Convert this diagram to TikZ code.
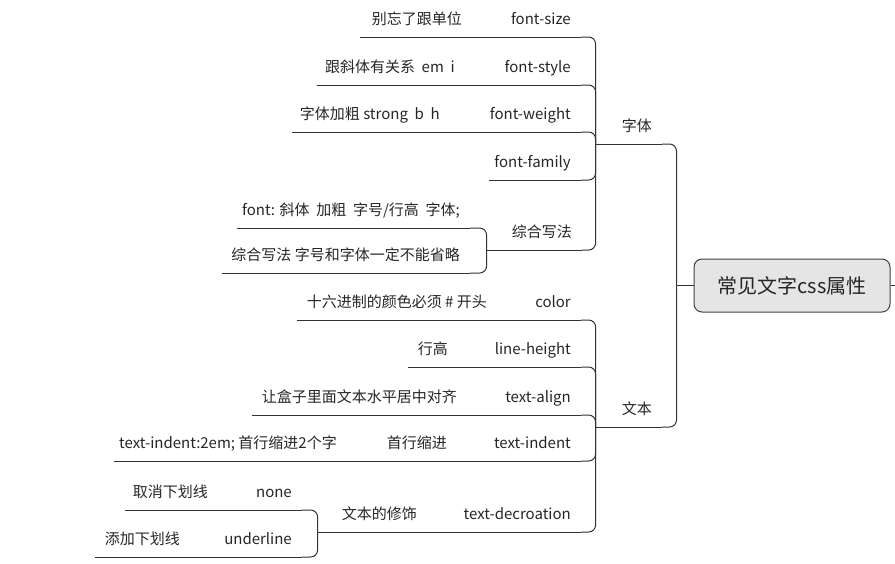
\documentclass[tikz,border=0pt]{standalone}
\usepackage{fontspec}
\setmainfont{Noto Sans CJK SC}
\tikzset{
    line/.style={draw=black!80, line width=1pt},
    branch/.style={line, rounded corners=7pt},
    topic/.style={anchor=south east, inner xsep=10pt, inner ysep=9.5pt,
        text height=11pt, text depth=3pt, text=black!85,
        font=\fontsize{15}{18}\selectfont,
        execute at begin node={\hbox to #1\bgroup\hss},
        execute at end node={\egroup}},
    root/.style={draw=black!75, line width=1pt, fill=black!10, rounded corners=8pt,
        minimum width=196pt, minimum height=53pt, text=black!85,
        font=\fontsize{20}{24}\selectfont},
}
\begin{document}
\begin{tikzpicture}[x=1pt, y=-1pt]

        \useasboundingbox (0,0) rectangle (895,563);

        \node[root] (rt) at (792,285.5) {常见文字css属性};
        \coordinate (rtout) at (895,285.5);

        \node[topic=30pt] (zt) at (662,144) {字体};
        \node[topic=30pt] (wb) at (662,427) {文本};

        \node[topic=58pt] (fs) at (581,37) {font-size};
        \node[topic=92pt] (fs1) at (472,37) {别忘了跟单位};
        \node[topic=63pt] (fst) at (581,85) {font-style};
        \node[topic=128pt] (fst1) at (465,85) {跟斜体有关系\ \ em\ \ i};
        \node[topic=78pt] (fw) at (581,132) {font-weight};
        \node[topic=138pt] (fw1) at (450,132) {字体加粗 strong\ \ b\ \ h};
        \node[topic=72pt] (ff) at (581,180) {font-family};
        \node[topic=59pt] (zh) at (582,250) {综合写法};
        \node[topic=213pt] (zh1) at (470,228) {font: 斜体\ \ 加粗\ \ 字号/行高\ \ 字体;};
        \node[topic=228pt] (zh2) at (470,273) {综合写法 字号和字体一定不能省略};

        \node[topic=32pt] (co) at (581,320) {color};
        \node[topic=180pt] (co1) at (497,320) {十六进制的颜色必须 \# 开头};
        \node[topic=71pt] (lh) at (581,367) {line-height};
        \node[topic=30pt] (lh1) at (458,367) {行高};
        \node[topic=63pt] (ta) at (581,415) {text-align};
        \node[topic=195pt] (ta1) at (467,415) {让盒子里面文本水平居中对齐};
        \node[topic=73pt] (ti) at (581,461) {text-indent};
        \node[topic=60pt] (ti1) at (457,461) {首行缩进};
        \node[topic=213pt] (ti2) at (347,461) {text-indent:2em; 首行缩进2个字};
        \node[topic=102pt] (td) at (581,532) {text-decroation};
        \node[topic=73pt] (td1) at (427,532) {文本的修饰};
        \node[topic=32pt] (tn) at (302,510) {none};
        \node[topic=73pt] (tn1) at (218,510) {取消下划线};
        \node[topic=60pt] (tu) at (302,557) {underline};
        \node[topic=75pt] (tu1) at (190,557) {添加下划线};

        \foreach \n in {zt, wb, fs, fs1, fst, fst1, fw, fw1, ff, zh, zh1, zh2,
            co, co1, lh, lh1, ta, ta1, ti, ti1, ti2, td, td1, tn, tn1, tu, tu1}{
            \draw[line] (\n.south west) -- (\n.south east);
        }

        \draw[line] (rt.east) -- (rtout);
        \draw[line] (rt.west) -- ++(-17,0) coordinate (rtj);
        \foreach \n in {zt, wb}{
            \draw[branch] (rtj) |- (\n.south east);
        }

        \draw[line] (zt.south west) -- ++(-16,0) coordinate (ztj);
        \foreach \n in {fs, fst, fw, ff, zh}{
            \draw[branch] (ztj) |- (\n.south east);
        }

        \draw[line] (wb.south west) -- ++(-16,0) coordinate (wbj);
        \foreach \n in {co, lh, ta, ti, td}{
            \draw[branch] (wbj) |- (\n.south east);
        }

        \draw[line] (zh.south west) -- ++(-16,0) coordinate (zhj);
        \foreach \n in {zh1, zh2}{
            \draw[branch] (zhj) |- (\n.south east);
        }

        \draw[line] (td1.south west) -- ++(-16,0) coordinate (tdj);
        \foreach \n in {tn, tu}{
            \draw[branch] (tdj) |- (\n.south east);
        }

        \foreach \a/\b in {%
            fs1/fs,
            fst1/fst,
            fw1/fw,
            co1/co,
            lh1/lh,
            ta1/ta,
            ti1/ti,
            ti2/ti1,
            td1/td,
            tn1/tn,
            tu1/tu%
        }{
            \draw[line] (\a.south east) -- (\b.south west);
        }

    \end{tikzpicture}
\end{document}
